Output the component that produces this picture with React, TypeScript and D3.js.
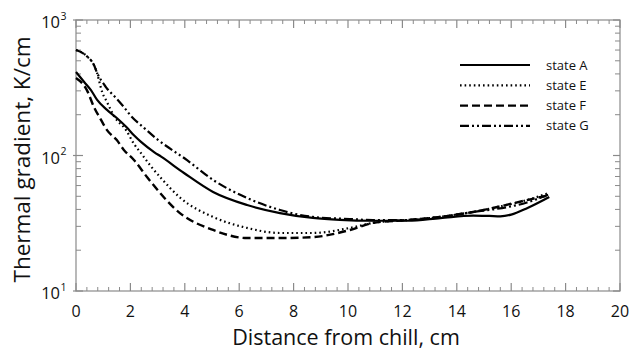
import React from "react";
import * as d3 from "d3";

const stateAX = [0, 0.3, 0.55, 0.77, 1.14, 1.5, 1.88, 2.13, 2.39, 2.87, 3.13, 3.97, 5.04, 6.29, 7.5, 8.71, 9.7, 10.9, 12.2, 13.4, 14.6, 15.2, 15.6, 16.0, 16.6, 17.4];
const stateAY = [413, 349, 304, 258, 217, 189, 160, 141, 126, 106, 98, 74.3, 53.8, 43.1, 37.6, 34.6, 33.5, 33, 33, 34.5, 36, 35.8, 35.6, 36.6, 41, 49.4];

const stateEX = [0, 0.4, 0.66, 0.77, 0.85, 0.96, 1.14, 1.4, 1.84, 2.13, 2.39, 2.76, 3.13, 3.82, 5.04, 6.29, 7.5, 8.71, 10.07, 10.92, 12.17, 13.38, 14.6, 15.33, 16.58, 17.4];
const stateEY = [600, 540, 465, 410, 355, 295, 248, 195, 154, 122, 104, 83, 68, 49, 35.2, 29.2, 26.8, 26.8, 29.2, 31.8, 33.4, 35.2, 38.3, 41, 46.9, 53];

const stateFX = [0, 0.4, 0.66, 0.92, 1.14, 1.5, 1.76, 2.13, 2.61, 3.82, 5.04, 6.29, 7.5, 8.71, 10.07, 10.92, 12.17, 13.38, 14.6, 15.33, 16.58, 17.43];
const stateFY = [373, 304, 228, 183, 154, 130, 110, 92.7, 69.4, 37.6, 28.2, 24.6, 24.6, 25.0, 28.2, 31.8, 33.4, 35.2, 38.3, 41.0, 46.9, 51.1];

const stateGX = [0, 0.4, 0.66, 0.77, 1.1, 1.5, 1.76, 2.0, 2.5, 3.0, 3.5, 4.0, 5.04, 6.29, 7.5, 8.71, 10.07, 10.92, 12.17, 13.38, 14.6, 15.33, 16.58, 17.43];
const stateGY = [600, 540, 465, 410, 320, 262, 228, 198, 160, 131, 111, 95, 66, 48.6, 39.6, 35.2, 34.0, 33.4, 33.4, 35.2, 38.3, 40, 45, 52];

const seriesNames = ["state A", "state E", "state F", "state G"];
const xTicks = [0, 2, 4, 6, 8, 10, 12, 14, 16, 18, 20];
const yTickExps = [1, 2, 3];

const W = 633;
const H = 351;
const L = 76, R = 620, T = 20, B = 291;
const FONT = "'Open Sans', sans-serif";
const AXIS = "#8a8a8a";

const styles = [
  { dash: "none", width: 2.2 },
  { dash: "1.6,3", width: 2.2 },
  { dash: "8,4", width: 2.4 },
  { dash: "9,3,2,3,2,3", width: 2.2 },
];

export default function App() {
  const x = d3.scaleLinear().domain([0, 20]).range([L, R]);
  const y = d3.scaleLog().domain([10, 1000]).range([B, T]);
  const line = d3
    .line<[number, number]>()
    .x((d) => x(d[0]))
    .y((d) => y(d[1]))
    .curve(d3.curveMonotoneX);

  const series = [
    d3.zip(stateAX, stateAY),
    d3.zip(stateEX, stateEY),
    d3.zip(stateFX, stateFY),
    d3.zip(stateGX, stateGY),
  ] as [number, number][][];

  const xMinor = d3.range(0, 20.001, 0.4).filter((v) => Math.abs(v / 2 - Math.round(v / 2)) > 1e-6);
  const yMinor: number[] = [];
  for (const e of [1, 2]) for (let k = 2; k <= 9; k++) yMinor.push(k * Math.pow(10, e));

  return (
    <svg width={W} height={H} style={{ position: "absolute", left: 0, top: 0, background: "#fff" }} fontFamily={FONT}>
      <rect x={0} y={0} width={W} height={H} fill="#fff" />
      <rect x={L} y={T} width={R - L} height={B - T} fill="none" stroke={AXIS} strokeWidth={1.2} />
      {xTicks.map((t) => (
        <g key={"xt" + t}>
          <line x1={x(t)} x2={x(t)} y1={B} y2={B - 8} stroke={AXIS} strokeWidth={1.2} />
          <line x1={x(t)} x2={x(t)} y1={T} y2={T + 8} stroke={AXIS} strokeWidth={1.2} />
          <text x={x(t)} y={316.5} textAnchor="middle" fontSize={16} fill="#111">{t}</text>
        </g>
      ))}
      {xMinor.map((t, i) => (
        <g key={"xm" + i}>
          <line x1={x(t)} x2={x(t)} y1={B} y2={B - 4} stroke={AXIS} strokeWidth={1} />
          <line x1={x(t)} x2={x(t)} y1={T} y2={T + 4} stroke={AXIS} strokeWidth={1} />
        </g>
      ))}
      {yTickExps.map((e) => {
        const v = Math.pow(10, e);
        return (
          <g key={"yt" + e}>
            <line x1={L - 3} x2={L + 7} y1={y(v)} y2={y(v)} stroke={AXIS} strokeWidth={1.2} />
            <line x1={R} x2={R - 7} y1={y(v)} y2={y(v)} stroke={AXIS} strokeWidth={1.2} />
            <text x={60} y={y(v) + 8} textAnchor="end" fontSize={16.5} fill="#111">10</text>
            <text x={60.5} y={y(v) - 0.5} textAnchor="start" fontSize={10.5} fill="#111">{e}</text>
          </g>
        );
      })}
      {yMinor.map((v, i) => (
        <g key={"ym" + i}>
          <line x1={L} x2={L + 5} y1={y(v)} y2={y(v)} stroke={AXIS} strokeWidth={1} />
          <line x1={R} x2={R - 5} y1={y(v)} y2={y(v)} stroke={AXIS} strokeWidth={1} />
        </g>
      ))}
      <text x={(L + R) / 2 - 2} y={344.5} textAnchor="middle" fontSize={21.5} fill="#111">Distance from chill, cm</text>
      <text transform={`translate(30,${(T + B) / 2 + 4}) rotate(-90)`} textAnchor="middle" fontSize={22.5} fill="#111">
        Thermal gradient, K/cm
      </text>
      {series.map((s, i) => (
        <path
          key={"s" + i}
          d={line(s) || ""}
          fill="none"
          stroke="#000"
          strokeWidth={styles[i].width}
          strokeDasharray={styles[i].dash}
        />
      ))}
      {seriesNames.map((n, i) => {
        const ly = 65 + i * 20.3;
        return (
          <g key={"lg" + i}>
            <line x1={460} x2={530} y1={ly} y2={ly} stroke="#000" strokeWidth={styles[i].width} strokeDasharray={styles[i].dash} />
            <text x={546} y={ly + 4.5} fontSize={13} fill="#111">{n}</text>
          </g>
        );
      })}
    </svg>
  );
}
